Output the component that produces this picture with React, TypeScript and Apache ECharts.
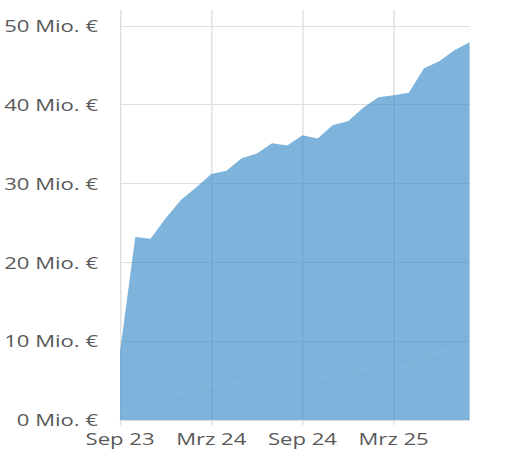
import React, { useEffect, useRef } from "react";
import * as echarts from "echarts";

const months = [
  "Sep 23", "Okt 23", "Nov 23", "Dez 23", "Jan 24", "Feb 24", "Mrz 24", "Apr 24",
  "Mai 24", "Jun 24", "Jul 24", "Aug 24", "Sep 24", "Okt 24", "Nov 24", "Dez 24",
  "Jan 25", "Feb 25", "Mrz 25", "Apr 25", "Mai 25", "Jun 25", "Jul 25", "Aug 25",
];
const volume = [
  8.7, 23.2, 23.0, 25.6, 27.9, 29.5, 31.2, 31.6, 33.2, 33.8, 35.1, 34.8,
  36.1, 35.7, 37.4, 37.9, 39.6, 40.95, 41.2, 41.5, 44.6, 45.5, 46.9, 47.9,
];
const faint = [
  1.0, 1.6, 2.2, 2.9, 3.4, 3.9, 4.4, 4.6, 4.8, 4.9, 5.1, 5.2,
  5.3, 5.4, 5.6, 6.0, 6.5, 6.6, 6.6, 6.7, 8.0, 8.6, 8.9, 9.0,
];
const yTicks = [0, 10, 20, 30, 40, 50];

const S = 1.38;

export default function App() {
  const ref = useRef<HTMLDivElement>(null);
  useEffect(() => {
    document.body.style.margin = "0";
    const chart = echarts.init(ref.current!, null, { renderer: "svg" });
    const grey = "#dedede";
    const txt = "#595959";
    const fill = "rgba(57,140,201,0.65)";
    chart.setOption({
      animation: false,
      grid: { left: 115 / S, right: (511 - 470) / S, top: 10, bottom: 32 },
      xAxis: {
        type: "category",
        data: months,
        boundaryGap: false,
        axisLine: { show: true, lineStyle: { color: grey } },
        axisTick: { show: true, interval: 5, length: 5, lineStyle: { color: grey } },
        axisLabel: {
          interval: 5,
          margin: 11,
          color: txt,
          fontFamily: "Open Sans",
          fontSize: 16,
        },
        splitLine: { show: true, interval: 5, lineStyle: { color: grey, width: 1 } },
      },
      yAxis: {
        type: "value",
        min: 0,
        max: 52,
        interval: 10,
        axisLine: { show: false },
        axisTick: { show: false },
        axisLabel: {
          margin: 16,
          color: txt,
          fontFamily: "Open Sans",
          fontSize: 16,
          showMaxLabel: false,
          formatter: (v: number) => (yTicks.includes(v) ? `${v} Mio. €` : ""),
        },
        splitLine: { show: true, showMaxLine: false, lineStyle: { color: grey, width: 1 } },
      },
      series: [
        {
          type: "line",
          data: volume,
          showSymbol: false,
          lineStyle: { width: 0, color: fill },
          itemStyle: { color: fill },
          areaStyle: { color: fill, opacity: 1 },
        },
        {
          type: "line",
          data: faint,
          showSymbol: false,
          lineStyle: { width: 1, color: "rgba(255,255,255,0.07)" },
          itemStyle: { color: "rgba(255,255,255,0.07)" },
        },
      ],
    });
    return () => chart.dispose();
  }, []);
  return (
    <div style={{ position: "fixed", left: 0, top: 0, width: 511, height: 452, overflow: "hidden", background: "#fff" }}>
      <div
        ref={ref}
        style={{ width: 511 / S, height: 452, transform: `scaleX(${S})`, transformOrigin: "0 0" }}
      />
    </div>
  );
}
